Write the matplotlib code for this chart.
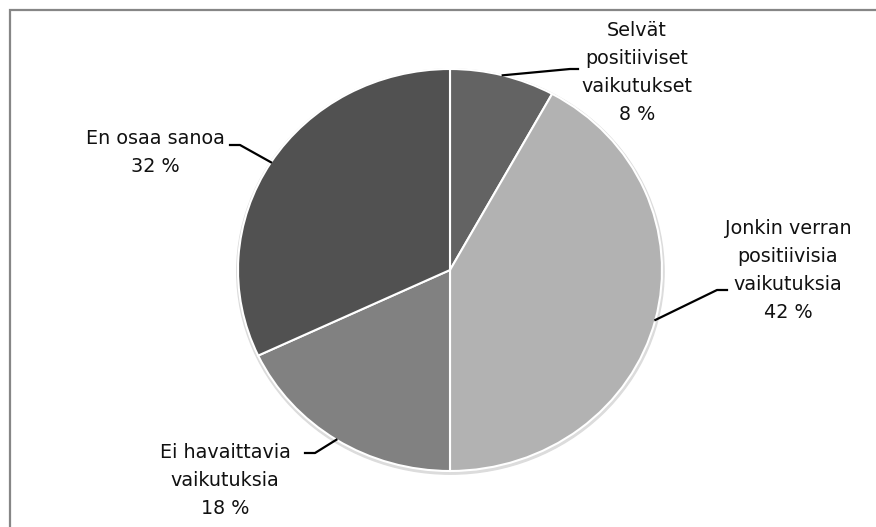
import numpy as np
import matplotlib
matplotlib.use("Agg")
import matplotlib.pyplot as plt
import matplotlib.patches as patches

labels = ["Selvät\npositiiviset\nvaikutukset", "Jonkin verran\npositiivisia\nvaikutuksia",
          "Ei havaittavia\nvaikutuksia", "En osaa sanoa"]
shares = [8, 42, 18, 32]
colors = ["#636363", "#b2b2b2", "#818181", "#515151"]

W, H = 876, 527
# pie centre / radii in pixels (slightly wider than tall, like the original)
cx, cy, rx, ry = 450, 270, 212, 201

# label centres and leader elbow points (pixels, y down)
label_pos = [(637, 73), (788, 270), (225, 481), (155, 153)]
elbows = [[(570, 69), (578, 69)],
          [(717, 290), (727, 290)],
          [(315, 453), (305, 453)],
          [(240, 145), (230, 145)]]

plt.rcParams['font.family'] = ['DejaVu Sans']

fig = plt.figure(figsize=(W / 100, H / 100), dpi=100)
ax = fig.add_axes([0, 0, 1, 1])

# faint shadow under the pie
ax.add_patch(patches.Circle((0.002, -0.008), 1.008, color="#dcdcdc", zorder=0))

wedges, _ = ax.pie(shares, colors=colors, startangle=90, counterclock=False,
                   radius=1, wedgeprops=dict(edgecolor="white", linewidth=1.5))
ax.set_aspect('auto')
ax.set_xlim(-cx / rx, (W - cx) / rx)
ax.set_ylim(-(H - cy) / ry, cy / ry)
ax.axis('off')


def px(x, y):
    return (x / W, 1 - y / H)


for w, lab, v, (tx, ty), el in zip(wedges, labels, shares, label_pos, elbows):
    mid = np.deg2rad((w.theta1 + w.theta2) / 2)
    ex, ey = np.cos(mid), np.sin(mid)
    # edge point -> figure fraction
    fx, fy = fig.transFigure.inverted().transform(ax.transData.transform((ex, ey)))
    xs = [fx] + [px(*p)[0] for p in el]
    ys = [fy] + [px(*p)[1] for p in el]
    fig.add_artist(plt.Line2D(xs, ys, color="black", lw=1.6, transform=fig.transFigure))
    fig.text(*px(tx, ty), f"{lab}\n{v} %", ha="center", va="center",
             fontsize=13.8, linespacing=1.6, color="#111111")

# chart border (only top and left visible in the crop)
fig.add_artist(patches.Rectangle(px(9.5, 600), 2, (600 - 9.5) / H, fill=False,
                                 edgecolor="#868686", lw=1.6, transform=fig.transFigure))

fig.savefig("out.png", dpi=100, facecolor="white")
